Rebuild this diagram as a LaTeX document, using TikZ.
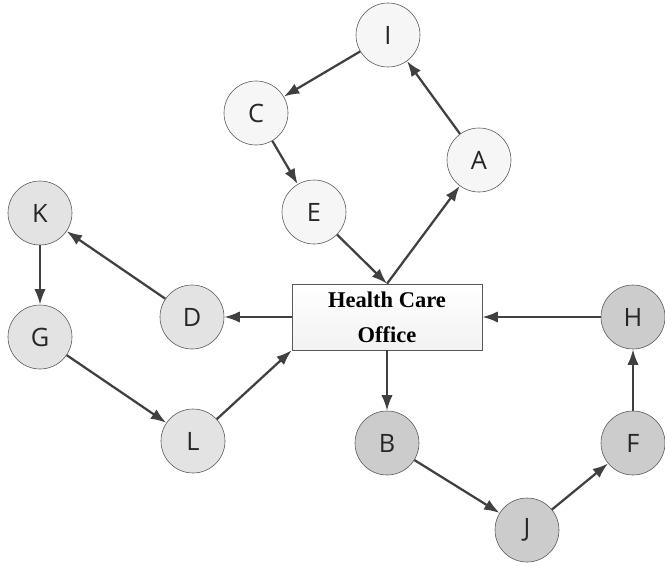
\documentclass[tikz,border=0pt]{standalone}
\usepackage{fontspec}
\setmainfont{Liberation Serif}
\newfontfamily\lblfont{Open Sans}
\usetikzlibrary{arrows.meta}
\begin{document}
\begin{tikzpicture}[x=0.025cm,y=-0.025cm,
  stopnode/.style={circle,draw=gray!65!black,minimum size=1.6cm,inner sep=0pt,
    text=black!85,font=\lblfont\fontsize{18}{20}\selectfont},
  lightnode/.style={stopnode,fill=gray!7},
  midnode/.style={stopnode,fill=gray!22},
  darknode/.style={stopnode,fill=gray!40},
  office/.style={rectangle,draw=gray!70!black,top color=white,bottom color=gray!10,
    minimum width=4.75cm,minimum height=1.65cm,align=center,
    font=\bfseries\fontsize{16}{25}\selectfont},
  link/.style={draw=black!75,line width=1.6pt,-{Latex[length=11pt,width=8pt]}}]
\useasboundingbox (0,0) rectangle (665,566);
% office in the middle
\node[office] (hco) at (387,317) {Health Care\\Office};
% upper round
\node[lightnode] (I) at (388,35) {I};
\node[lightnode] (C) at (256,113) {C};
\node[lightnode] (E) at (314,212) {E};
\node[lightnode] (A) at (479,160) {A};
% left round
\node[midnode] (K) at (40,213) {K};
\node[midnode] (G) at (40,337) {G};
\node[midnode] (D) at (192,317) {D};
\node[midnode] (L) at (193,441) {L};
% lower right round
\node[darknode] (B) at (387,443) {B};
\node[darknode] (J) at (527,530) {J};
\node[darknode] (F) at (633,443) {F};
\node[darknode] (H) at (633,317) {H};
% connectors
\draw[link] (hco.north) -- (A);
\draw[link] (A) -- (I);
\draw[link] (I) -- (C);
\draw[link] (C) -- (E);
\draw[link] (E) -- (hco.north);
\draw[link] (hco.west) -- (D);
\draw[link] (D) -- (K);
\draw[link] (K) -- (G);
\draw[link] (G) -- (L);
\draw[link] (L) -- (hco.south west);
\draw[link] (hco.south) -- (B);
\draw[link] (B) -- (J);
\draw[link] (J) -- (F);
\draw[link] (F) -- (H);
\draw[link] (H) -- (hco.east);
\end{tikzpicture}
\end{document}
